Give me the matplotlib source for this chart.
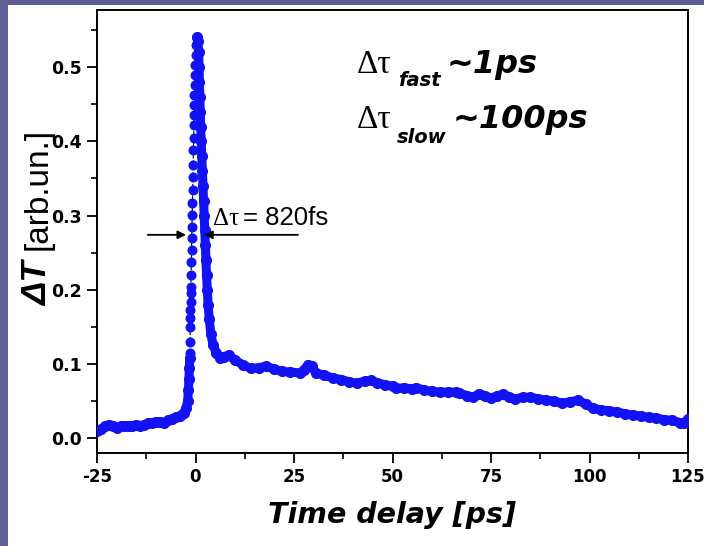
import matplotlib
matplotlib.use("Agg")
import matplotlib.pyplot as plt
from matplotlib.patches import Rectangle

plt.rcParams['font.family'] = ['DejaVu Sans']

# baseline before the pump pulse
base_t = [-25, -24, -23, -22, -21, -20, -19, -18, -17, -16, -15, -14, -13, -12,
          -11, -10, -9, -8, -7, -6, -5, -4, -3, -2.4, -2.0, -1.8, -1.65, -1.55, -1.48]
base_v = [0.009, 0.012, 0.016, 0.018, 0.016, 0.014, 0.016, 0.017, 0.016, 0.017,
          0.018, 0.017, 0.018, 0.020, 0.021, 0.022, 0.022, 0.021, 0.024, 0.026,
          0.028, 0.030, 0.034, 0.040, 0.050, 0.065, 0.080, 0.095, 0.108]

# rising edge (separate dots)
rise_t = [-1.42, -1.38, -1.33, -1.30, -1.27, -1.24, -1.20, -1.17, -1.12, -1.06,
          -1.01, -0.95, -0.90, -0.84, -0.78, -0.72, -0.66, -0.60, -0.53, -0.47,
          -0.41, -0.36, -0.31, -0.26, -0.20, -0.14, -0.06, 0.04, 0.15, 0.30]
rise_v = [0.115, 0.129, 0.150, 0.162, 0.173, 0.183, 0.195, 0.204, 0.220, 0.237,
          0.253, 0.270, 0.284, 0.301, 0.317, 0.334, 0.352, 0.368, 0.388, 0.404,
          0.422, 0.435, 0.449, 0.462, 0.476, 0.489, 0.503, 0.516, 0.530, 0.540]

# fast and slow decay
decay_t = [0.3, 0.6, 0.8, 0.9, 1.0, 1.1, 1.2, 1.3, 1.45, 1.6, 1.75, 1.9, 2.05, 2.2,
           2.35, 2.5, 2.65, 2.8, 3.0, 3.2, 3.5, 3.9, 4.5, 5.3, 6.2, 7.2, 8.5, 10,
           12, 14, 16, 18, 20, 22, 24, 26.5, 27.5, 28.6, 29.5, 30.5, 32.5, 35, 37,
           39, 41, 43, 44.5, 46, 48, 50, 51, 53, 55, 56, 58, 60, 62, 64, 66, 67,
           69, 70.5, 72, 73.5, 75, 76.5, 78, 79.5, 81, 83, 85, 87, 89, 91, 93, 95,
           97, 99, 101, 103, 105, 107, 109, 111, 113, 115, 117, 119, 121, 123, 124, 125]
decay_v = [0.540, 0.535, 0.520, 0.500, 0.480, 0.460, 0.440, 0.420, 0.400, 0.380,
           0.360, 0.340, 0.320, 0.300, 0.280, 0.260, 0.240, 0.220, 0.200, 0.180,
           0.160, 0.140, 0.125, 0.115, 0.108, 0.110, 0.112, 0.105, 0.099, 0.094,
           0.095, 0.097, 0.093, 0.090, 0.089, 0.088, 0.092, 0.099, 0.097, 0.088,
           0.085, 0.081, 0.079, 0.076, 0.074, 0.077, 0.078, 0.075, 0.072, 0.070,
           0.067, 0.068, 0.066, 0.068, 0.065, 0.063, 0.062, 0.062, 0.062, 0.061,
           0.057, 0.055, 0.060, 0.057, 0.054, 0.057, 0.059, 0.056, 0.053, 0.055,
           0.055, 0.053, 0.051, 0.050, 0.047, 0.049, 0.051, 0.046, 0.040, 0.038,
           0.037, 0.035, 0.033, 0.031, 0.030, 0.028, 0.027, 0.025, 0.024, 0.021,
           0.020, 0.026]

x_ticks = [-25, 0, 25, 50, 75, 100, 125]
y_ticks = [0.0, 0.1, 0.2, 0.3, 0.4, 0.5]

# FWHM arrows (data coords)
fwhm_level = 0.274
left_arrow = (-12.1, -2.4)
right_arrow = (26.0, 2.2)

blue = '#1212f2'
W, H = 704, 546

fig = plt.figure(figsize=(W / 100, H / 100), dpi=100)
fig.patch.set_facecolor('#5f5f96')
fig.patches.append(Rectangle((8 / W, 0), 1, 1 - 5 / H, transform=fig.transFigure,
                             facecolor='white', edgecolor='none', zorder=-10))


def put(x, y, s, **kw):
    # text placed in pixel coordinates (from top-left)
    kw.setdefault('va', 'baseline')
    return fig.text(x / W, 1 - y / H, s, **kw)


ax = fig.add_axes([97 / W, 1 - 453 / H, 591 / W, 443 / H])
ax.set_facecolor('white')

ax.plot(base_t, base_v, '-o', color=blue, lw=6.5, ms=7, solid_capstyle='round', zorder=3)
ax.plot(decay_t, decay_v, '-o', color=blue, lw=6.5, ms=7, solid_capstyle='round', zorder=3)
ax.plot(rise_t, rise_v, '--o', color='black', lw=0.8, ms=6.2,
        markerfacecolor=blue, markeredgecolor=blue, zorder=4)

ax.set_xlim(-25, 125)
ax.set_ylim(-0.02, 0.577)
ax.set_xticks(x_ticks)
ax.set_xticklabels([str(v) for v in x_ticks])
ax.set_xticks([-12.5 + 25 * i for i in range(6)], minor=True)
ax.set_yticks(y_ticks)
ax.set_yticklabels(['%.1f' % v for v in y_ticks])
ax.set_yticks([0.05 + 0.1 * i for i in range(6)], minor=True)

ax.tick_params(axis='both', which='major', direction='out', length=7, width=1.3,
               labelsize=12.5, pad=4)
ax.tick_params(axis='x', which='major', labelsize=12)
ax.tick_params(axis='both', which='minor', direction='out', length=4, width=1.2)
for lab in ax.get_xticklabels() + ax.get_yticklabels():
    lab.set_fontweight('bold')
for s in ax.spines.values():
    s.set_linewidth(1.4)

ax.set_xlabel('Time delay [ps]', fontsize=20.5, fontweight='bold', fontstyle='italic',
              va='baseline')
ax.xaxis.set_label_coords(0.5, (453 - 523) / 443)

# y label: bold-italic "ΔT" followed by regular "[arb.un.]"
put(47, 306, 'ΔT', rotation=90, rotation_mode='anchor', ha='left',
    family='Liberation Sans', fontsize=25, fontweight='bold', fontstyle='italic')
put(47, 250, '[arb.un.]', rotation=90, rotation_mode='anchor', ha='left',
    family='Liberation Sans', fontsize=24)

# FWHM arrows
ax.annotate('', xy=(left_arrow[1], fwhm_level), xytext=(left_arrow[0], fwhm_level),
            arrowprops=dict(arrowstyle='-|>', color='black', lw=1.3, mutation_scale=12,
                            shrinkA=0, shrinkB=0))
ax.annotate('', xy=(right_arrow[1], fwhm_level), xytext=(right_arrow[0], fwhm_level),
            arrowprops=dict(arrowstyle='-|>', color='black', lw=1.3, mutation_scale=12,
                            shrinkA=0, shrinkB=0))
put(213, 225, 'Δτ', family='Liberation Serif', fontsize=18)
put(243, 225, '= 820fs', family='Liberation Sans', fontsize=18.5)

# time constants
put(357, 73, 'Δτ', family='Liberation Serif', fontsize=24)
put(398, 86, 'fast', fontsize=14, fontweight='bold', fontstyle='italic')
put(447, 73, '~1ps', fontsize=23, fontweight='bold', fontstyle='italic')
put(357, 128, 'Δτ', family='Liberation Serif', fontsize=24)
put(397, 143, 'slow', fontsize=14, fontweight='bold', fontstyle='italic')
put(453, 128, '~100ps', fontsize=23, fontweight='bold', fontstyle='italic')

fig.savefig('out.png', dpi=100, facecolor=fig.get_facecolor())
